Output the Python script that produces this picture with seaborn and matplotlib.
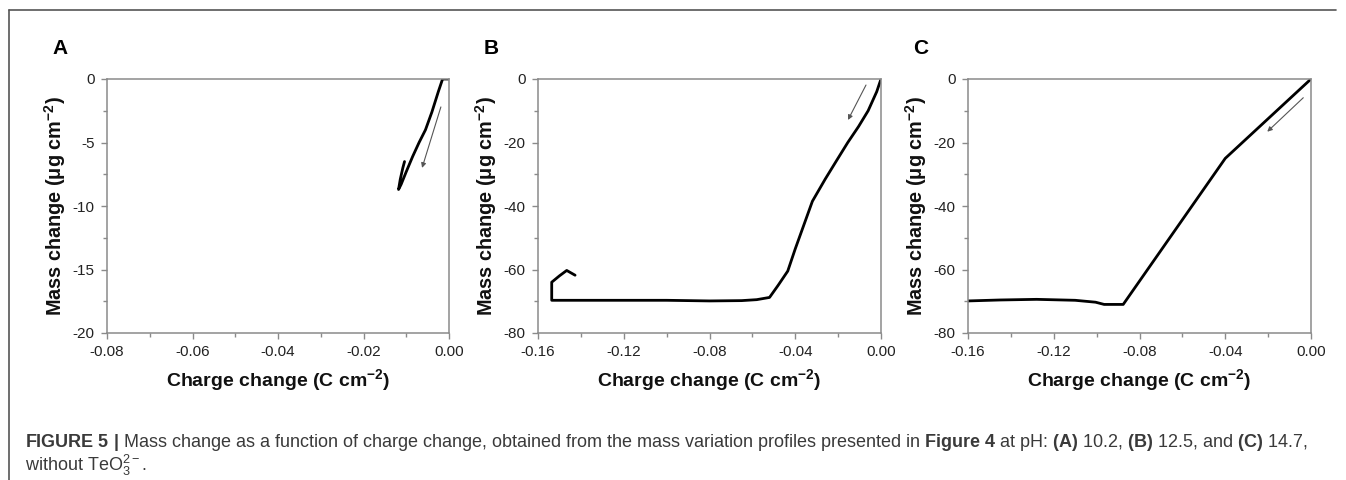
import numpy as np
import pandas as pd
import matplotlib
matplotlib.use("Agg")
import matplotlib.pyplot as plt
from matplotlib.lines import Line2D
import seaborn as sns

# ---------------- data ----------------
# Panel A (pH 10.2)
a_charge = [0.0, -0.0015, -0.0025, -0.0040, -0.0055, -0.0070, -0.0085, -0.0100, -0.0112, -0.0118,
            -0.0114, -0.0108, -0.0104]
a_mass = [0.0, 0.0, -1.0, -2.6, -4.0, -5.0, -6.1, -7.3, -8.3, -8.7,
          -7.9, -7.0, -6.5]
# Panel B (pH 12.5)
b_charge = [0.0, -0.002, -0.006, -0.0105, -0.0155, -0.021, -0.026, -0.032, -0.036, -0.040,
            -0.0435, -0.048, -0.052, -0.058, -0.065, -0.080, -0.100, -0.130, -0.1536,
            -0.1536, -0.1500, -0.1466, -0.1427]
b_mass = [0.0, -4.0, -10.0, -15.0, -20.0, -26.0, -31.5, -38.5, -46.0, -53.5,
          -60.5, -65.0, -68.8, -69.5, -69.8, -69.9, -69.7, -69.7, -69.7,
          -64.0, -62.0, -60.3, -61.8]
# Panel C (pH 14.7)
c_charge = [0.0, -0.040, -0.0876, -0.0965, -0.1005, -0.110, -0.128, -0.145, -0.160]
c_mass = [0.0, -25.0, -71.0, -71.0, -70.3, -69.7, -69.4, -69.6, -69.9]

# arrows (start -> end)
a_arrow = [(-0.0019, -2.2), (-0.0063, -7.0)]
b_arrow = [(-0.0070, -1.9), (-0.0154, -12.9)]
c_arrow = [(-0.0036, -5.9), (-0.0204, -16.6)]

panel_labels = ["A", "B", "C"]
xlims = [(-0.08, 0.0), (-0.16, 0.0), (-0.16, 0.0)]
ylims = [(-20, 0), (-80, 0), (-80, 0)]
xmajor = [0.02, 0.04, 0.04]
ymajor = [5, 20, 20]

# ---------------- style ----------------
sns.set_style("ticks")
plt.rcParams['font.family'] = ['Liberation Sans', 'DejaVu Sans']
plt.rcParams['mathtext.fontset'] = 'custom'
plt.rcParams['mathtext.rm'] = 'Liberation Sans'
plt.rcParams['mathtext.bf'] = 'Liberation Sans:bold'
plt.rcParams['mathtext.it'] = 'Liberation Sans:italic'
plt.rcParams['mathtext.default'] = 'regular'

fig = plt.figure(figsize=(13.46, 4.80), dpi=100)
W, H = 1346, 480

axes_px = [(107, 449), (538, 881), (968, 1311)]
top_px, bot_px = 79, 333

datasets = [(a_charge, a_mass, a_arrow), (b_charge, b_mass, b_arrow), (c_charge, c_mass, c_arrow)]
spine_col = "#8a8a8a"
for i, ((l, r), (xs, ys, arr)) in enumerate(zip(axes_px, datasets)):
    ax = fig.add_axes([l / W, 1 - bot_px / H, (r - l) / W, (bot_px - top_px) / H])
    df = pd.DataFrame({"charge": xs, "mass": ys})
    sns.lineplot(data=df, x="charge", y="mass", sort=False, estimator=None,
                 color="black", linewidth=2.0, ax=ax)
    ax.annotate("", xy=arr[1], xytext=arr[0],
                arrowprops=dict(arrowstyle="-|>", color="#555555", lw=0.8,
                                mutation_scale=7, shrinkA=0, shrinkB=0))
    ax.set_xlim(*xlims[i])
    ax.set_ylim(*ylims[i])
    ax.xaxis.set_major_locator(matplotlib.ticker.MultipleLocator(xmajor[i]))
    ax.xaxis.set_minor_locator(matplotlib.ticker.MultipleLocator(xmajor[i] / 2))
    ax.yaxis.set_major_locator(matplotlib.ticker.MultipleLocator(ymajor[i]))
    ax.yaxis.set_minor_locator(matplotlib.ticker.MultipleLocator(ymajor[i] / 2))
    ax.xaxis.set_major_formatter(matplotlib.ticker.FuncFormatter(lambda v, p: f"{v:.2f}"))
    ax.yaxis.set_major_formatter(matplotlib.ticker.FuncFormatter(lambda v, p: f"{v:.0f}"))
    for s in ax.spines.values():
        s.set_visible(True)
        s.set_color(spine_col)
        s.set_linewidth(1.1)
    ax.tick_params(which="major", direction="out", length=4, width=1, color=spine_col,
                   labelsize=11, labelcolor="#222222", pad=5)
    ax.tick_params(which="minor", direction="out", length=3, width=1, color=spine_col)
    ax.set_xlabel(r"Charge change (C cm$^{-2}$)", fontsize=14, fontweight="bold", color="#111111")
    ax.set_ylabel(r"Mass change (μg cm$^{-2}$)", fontsize=14.3, fontweight="bold", color="#111111")
    ax.xaxis.set_label_coords(0.5, -0.135)
    ax.yaxis.set_label_coords(-0.115, 0.5)
    fig.text((l - 47) / W, 1 - 48 / H, panel_labels[i], fontsize=15, fontweight="bold",
             ha="center", va="center", color="black")

# frame lines
fig.add_artist(Line2D([9 / W, 9 / W], [1 - 10 / H, 0], color="#555555", lw=1.2))
fig.add_artist(Line2D([9 / W, 1336 / W], [1 - 10 / H, 1 - 10 / H], color="#555555", lw=1.2))

cap1 = (r"$\mathbf{FIGURE\ 5\ |}$ Mass change as a function of charge change, obtained from the mass "
        r"variation profiles presented in $\mathbf{Figure\ 4}$ at pH: $\mathbf{(A)}$ 10.2, "
        r"$\mathbf{(B)}$ 12.5, and $\mathbf{(C)}$ 14.7,")
cap2 = r"without TeO$_3^{2-}$."
fig.text(25 / W, 1 - 447 / H, cap1, fontsize=13, color="#3a3a3a", ha="left", va="baseline")
fig.text(25 / W, 1 - 471 / H, cap2, fontsize=13, color="#3a3a3a", ha="left", va="baseline")

fig.savefig("out.png", dpi=100)
